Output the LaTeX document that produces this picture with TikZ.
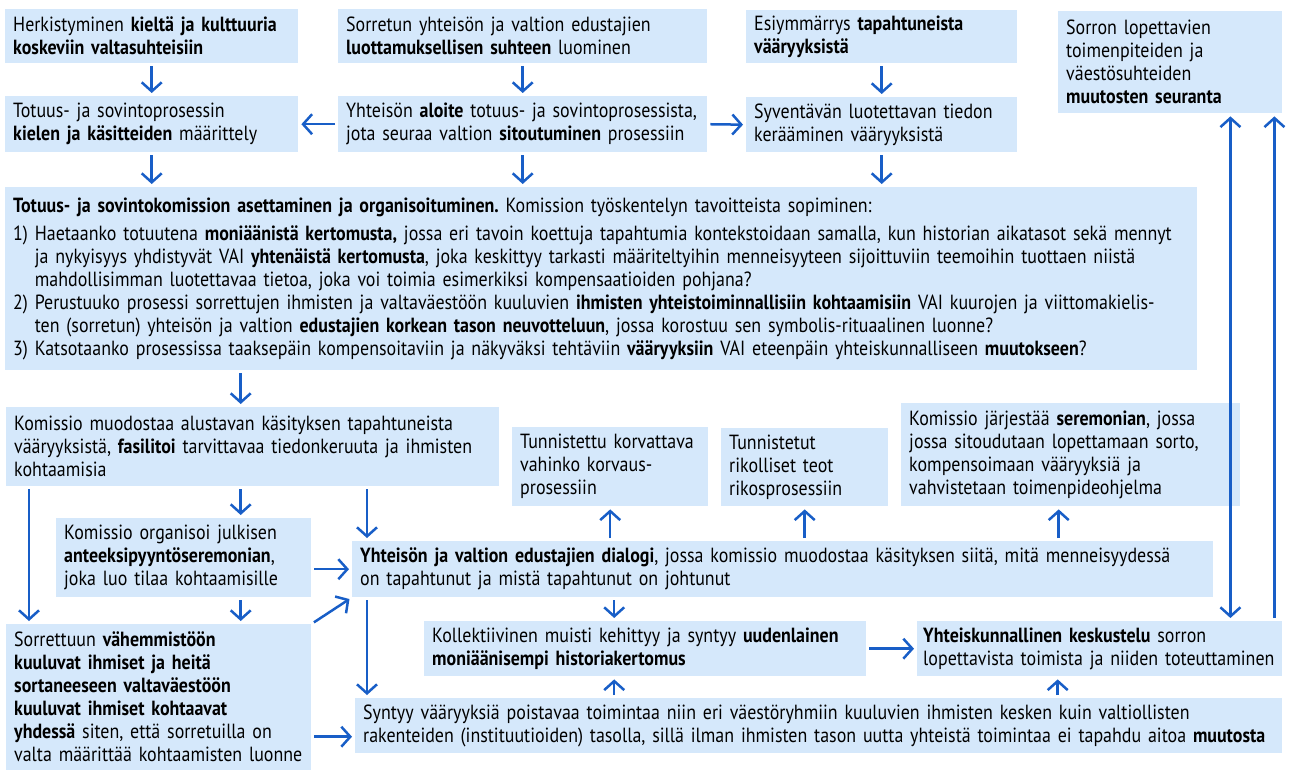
\documentclass[tikz,border=0pt]{standalone}
\usepackage{fontspec}
\setmainfont{PT Sans}[FakeStretch=0.875]
\usetikzlibrary{arrows.meta,calc}
\definecolor{laatikkosininen}{RGB}{213,232,251}
\definecolor{nuolisininen}{RGB}{24,94,199}
\hyphenpenalty=10000
\frenchspacing

\begin{document}
\begin{tikzpicture}[x=1pt,y=-1pt]
\tikzstyle{nuoli}=[->,>={Straight Barb[length=9pt,width=20pt]},line width=2.5pt,draw=nuolisininen,shorten >=3pt,shorten <=3pt]
\tikzset{laatikko/.style={fill=laatikkosininen,anchor=north west,inner xsep=8pt,inner ysep=2pt,align=left,
font=\fontsize{20.5}{23}\selectfont,text width=#1},
laatikko/.default={200pt}}
\useasboundingbox (0,0) rectangle (1290,773);

% ylarivi
\node[laatikko=277pt,minimum height=54pt] (A) at (5,9) {Herkistyminen \textbf{kieltä ja kulttuuria}\\ \textbf{koskeviin valtasuhteisiin}};
\node[laatikko=353pt,minimum height=54pt] (B) at (338,9) {Sorretun yhteisön ja valtion edustajien\\ \textbf{luottamuksellisen suhteen} luominen};
\node[laatikko=255pt,minimum height=53pt] (C) at (746,10) {Esiymmärrys \textbf{tapahtuneista}\\ \textbf{vääryyksistä}};
\node[laatikko=208pt,minimum height=102pt] (D) at (1058,11) {Sorron lopettavien\\ toimenpiteiden ja\\ väestösuhteiden\\ \textbf{muutosten seuranta}};
\node[laatikko=277pt,minimum height=56pt] (E) at (5,96) {Totuus- ja sovintoprosessin\\ \textbf{kielen ja käsitteiden} määrittely};
\node[laatikko=353pt,minimum height=56pt] (F) at (338,96) {Yhteisön \textbf{aloite} totuus- ja sovintoprosessista,\\ jota seuraa valtion \textbf{sitoutuminen} prosessiin};
\node[laatikko=255pt,minimum height=55pt] (G) at (746,97) {Syventävän luotettavan tiedon\\ kerääminen vääryyksistä};

% komissio
\node[laatikko=1176pt,minimum height=183pt] (H) at (5,187) {\textbf{Totuus- ja sovintokomission asettaminen ja organisoituminen.} Komission työskentelyn tavoitteista sopiminen:\\[5pt]
1) Haetaanko totuutena \textbf{moniäänistä kertomusta,} jossa eri tavoin koettuja tapahtumia kontekstoidaan samalla, kun historian aikatasot sekä mennyt\\
\phantom{1)} ja nykyisyys yhdistyvät VAI \textbf{yhtenäistä kertomusta}, joka keskittyy tarkasti määriteltyihin menneisyyteen sijoittuviin teemoihin tuottaen niistä\\
\phantom{1)} mahdollisimman luotettavaa tietoa, joka voi toimia esimerkiksi kompensaatioiden pohjana?\\
2) Perustuuko prosessi sorrettujen ihmisten ja valtaväestöön kuuluvien \textbf{ihmisten yhteistoiminnallisiin kohtaamisiin} VAI kuurojen ja viittomakielis-\\
\phantom{2)} ten (sorretun) yhteisön ja valtion \textbf{edustajien korkean tason neuvotteluun}, jossa korostuu sen symbolis-rituaalinen luonne?\\
3) Katsotaanko prosessissa taaksepäin kompensoitaviin ja näkyväksi tehtäviin \textbf{vääryyksiin} VAI eteenpäin yhteiskunnalliseen \textbf{muutokseen}?};

% alaosa
\node[laatikko=477pt,minimum height=79pt] (I) at (6,407) {Komissio muodostaa alustavan käsityksen tapahtuneista\\ vääryyksistä, \textbf{fasilitoi} tarvittavaa tiedonkeruuta ja ihmisten\\ kohtaamisia};
\node[laatikko=180pt,minimum height=79pt] (J) at (512,427) {Tunnistettu korvattava\\ vahinko korvaus-\\ prosessiin};
\node[laatikko=151pt,minimum height=78pt] (K) at (721,428) {Tunnistetut\\ rikolliset teot\\ rikosprosessiin};
\node[laatikko=323pt,minimum height=103pt] (L) at (901,403) {Komissio järjestää \textbf{seremonian}, jossa\\ jossa sitoudutaan lopettamaan sorto,\\ kompensoimaan vääryyksiä ja\\ vahvistetaan toimenpideohjelma};
\node[laatikko=239pt,minimum height=79pt] (M) at (56,518) {Komissio organisoi julkisen\\ \textbf{anteeksipyyntöseremonian},\\ joka luo tilaa kohtaamisille};
\node[laatikko=845pt,minimum height=56pt] (N) at (352,541) {\textbf{Yhteisön ja valtion edustajien dialogi}, jossa komissio muodostaa käsityksen siitä, mitä menneisyydessä\\ on tapahtunut ja mistä tapahtunut on johtunut};
\node[laatikko=289pt,minimum height=146pt] (O) at (6,624) {Sorrettuun \textbf{vähemmistöön}\\ \textbf{kuuluvat ihmiset ja heitä}\\ \textbf{sortaneeseen valtaväestöön}\\ \textbf{kuuluvat ihmiset kohtaavat}\\ \textbf{yhdessä} siten, että sorretuilla on\\ valta määrittää kohtaamisten luonne};
\node[laatikko=353pt,minimum height=55pt,inner xsep=6pt] (Q) at (917,621) {\textbf{Yhteiskunnallinen keskustelu} sorron\\ lopettavista toimista ja niiden toteuttaminen};
\node[laatikko=426pt,minimum height=55pt] (P) at (424,621) {Kollektiivinen muisti kehittyy ja syntyy \textbf{uudenlainen}\\ \textbf{moniäänisempi historiakertomus}};
\node[laatikko=911pt,minimum height=55pt] (R) at (355,698) {Syntyy vääryyksiä poistavaa toimintaa niin eri väestöryhmiin kuuluvien ihmisten kesken kuin valtiollisten\\ rakenteiden (instituutioiden) tasolla, sillä ilman ihmisten tason uutta yhteistä toimintaa ei tapahdu aitoa \textbf{muutosta}};

% nuolet ylhaalla
\draw[nuoli] (A.south) -- (E.north);
\draw[nuoli] (B.south) -- (F.north);
\draw[nuoli] (C.south) -- (G.north);
\draw[nuoli] (F.west) -- (E.east);
\draw[nuoli] (F.east) -- (G.west);
\draw[nuoli] (E.south) -- (E.south |- H.north);
\draw[nuoli] (F.south) -- (F.south |- H.north);
\draw[nuoli] (G.south) -- (G.south |- H.north);

% nuolet alhaalla
\draw[nuoli] ([xshift=-12pt]I.north |- H.south) -- ([xshift=-12pt]I.north);
\draw[nuoli] ([xshift=-12pt]I.south) -- ([xshift=-12pt]I.south |- M.north);
\draw[nuoli] ([xshift=-12pt]I.south |- M.south) -- ([xshift=-12pt]I.south |- O.north);
\draw[nuoli] ([xshift=23pt]I.south west) -- ([xshift=23pt]I.south west |- O.north);
\draw[nuoli] ([xshift=15pt]N.north west |- I.south) -- ([xshift=15pt]N.north west);
\draw[nuoli] ([xshift=15pt]N.south west) -- ([xshift=15pt]N.south west |- R.north);
\draw[nuoli] (N.west -| M.east) -- (N.west);
\draw[nuoli] (O.north east) -- (N.south west);
\draw[nuoli] ([yshift=-11pt]R.west -| O.east) -- ([yshift=-11pt]R.west);
\draw[nuoli] (J.south |- N.north) -- (J.south);
\draw[nuoli] (K.south |- N.north) -- (K.south);
\draw[nuoli] ([xshift=-12pt]L.south |- N.north) -- ([xshift=-12pt]L.south);
\draw[nuoli] ([xshift=-31pt]P.north |- N.south) -- ([xshift=-31pt]P.north);
\draw[nuoli] ([xshift=-31pt]P.south |- R.north) -- ([xshift=-31pt]P.south);
\draw[nuoli] (P.east) -- (Q.west);
\draw[nuoli] ([xshift=-42pt]Q.south |- R.north) -- ([xshift=-42pt]Q.south);

% seuranta
\draw[nuoli] ([xshift=-8pt]Q.north east) -- ([xshift=-8pt]Q.north east |- D.south);
\draw[nuoli,<->] ([xshift=-52pt]Q.north east |- D.south) -- ([xshift=-52pt]Q.north east);

\end{tikzpicture}
\end{document}
